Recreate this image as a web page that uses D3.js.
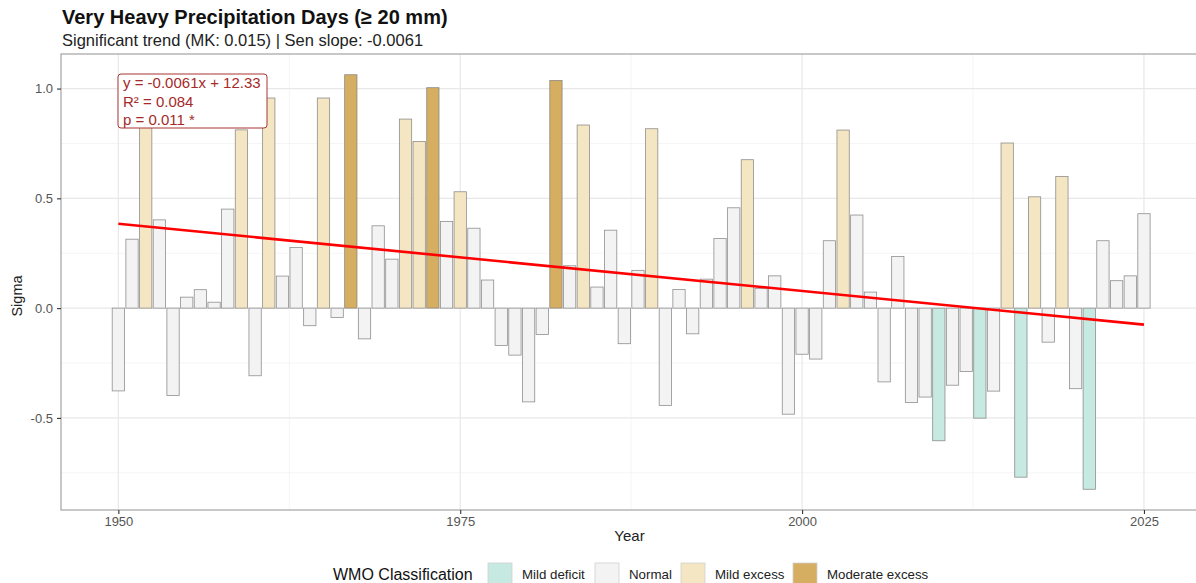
<!DOCTYPE html>
<html>
<head>
<meta charset="utf-8">
<script src="https://cdn.jsdelivr.net/npm/d3@7"></script>
<style>
  html, body { margin: 0; padding: 0; background: #fff; }
  svg { display: block; font-family: "Liberation Sans", Arial, sans-serif; }
</style>
</head>
<body>
<svg id="chart" width="1196" height="583"></svg>
<script>
// Annual sigma anomalies of very heavy precipitation days (>= 20 mm), 1950-2025
const years = d3.range(1950, 2026);
const sigma = [
  -0.377, 0.314, 0.880, 0.402, -0.398, 0.050, 0.084, 0.027, 0.451, 0.812,
  -0.308, 0.957, 0.146, 0.276, -0.080, 0.957, -0.043, 1.063, -0.140, 0.375,
  0.223, 0.861, 0.759, 1.004, 0.395, 0.530, 0.364, 0.128, -0.170, -0.214,
  -0.427, -0.120, 1.037, 0.193, 0.834, 0.096, 0.355, -0.162, 0.172, 0.817,
  -0.443, 0.085, -0.117, 0.132, 0.317, 0.457, 0.676, 0.090, 0.147, -0.483,
  -0.210, -0.232, 0.307, 0.811, 0.424, 0.073, -0.336, 0.235, -0.430, -0.405,
  -0.604, -0.351, -0.289, -0.501, -0.378, 0.752, -0.770, 0.507, -0.155, 0.600,
  -0.367, -0.825, 0.307, 0.125, 0.147, 0.430
];
// WMO class per year: D = mild deficit, N = normal, E = mild excess, M = moderate excess
const wmoClass = [
  "N","N","E","N","N","N","N","N","N","E",
  "N","E","N","N","N","E","N","M","N","N",
  "N","E","E","M","N","E","N","N","N","N",
  "N","N","M","N","E","N","N","N","N","E",
  "N","N","N","N","N","N","E","N","N","N",
  "N","N","N","E","N","N","N","N","N","N",
  "D","N","N","D","N","E","D","E","N","E",
  "N","D","N","N","N","N"
];
const classCodes = ["D", "N", "E", "M"];
const classNames = ["Mild deficit", "Normal", "Mild excess", "Moderate excess"];
const classFills = ["#c6e9e1", "#f3f3f3", "#f5e6c3", "#d5ae62"];

// Linear trend fit and test statistics
const trendSlope = -0.006126;
const trendIntercept = 12.33;
const rSquared = 0.084;
const pValue = 0.011;
const mkP = 0.015;
const senSlope = -0.0061;

const xTicks = [1950, 1975, 2000, 2025];
const xMinor = [1962.5, 1987.5, 2012.5];
const yTicks = [-0.5, 0.0, 0.5, 1.0];
const yMinor = [-0.75, -0.25, 0.25, 0.75];

const data = years.map((yr, i) => ({ year: yr, value: sigma[i], cls: wmoClass[i] }));

const svg = d3.select("#chart");
const W = 1196, H = 583;
const panel = { left: 61, top: 54, bottom: 510, right: 1202 };

// ggplot-style 5% expansion around the bars
const barFrac = 0.9;
const xLo = d3.min(years) - barFrac / 2, xHi = d3.max(years) + barFrac / 2;
const xPad = (xHi - xLo) * 0.05;
const x = d3.scaleLinear().domain([xLo - xPad, xHi + xPad]).range([60.3, panel.right]);
const yLo = d3.min(sigma), yHi = d3.max(sigma);
const yPad = (yHi - yLo) * 0.05;
const y = d3.scaleLinear().domain([yLo - yPad, yHi + yPad]).range([panel.bottom, panel.top]);
const fill = d3.scaleOrdinal().domain(classCodes).range(classFills);

const defs = svg.append("defs");
defs.append("clipPath").attr("id", "panelClip")
  .append("rect")
  .attr("x", panel.left).attr("y", panel.top)
  .attr("width", panel.right - panel.left).attr("height", panel.bottom - panel.top);

// Grid
const grid = svg.append("g").attr("clip-path", "url(#panelClip)");
grid.selectAll(".hminor").data(yMinor).join("line")
  .attr("x1", panel.left).attr("x2", panel.right)
  .attr("y1", d => y(d)).attr("y2", d => y(d))
  .attr("stroke", "#f2f2f2").attr("stroke-width", 0.8);
grid.selectAll(".vminor").data(xMinor).join("line")
  .attr("y1", panel.top).attr("y2", panel.bottom)
  .attr("x1", d => x(d)).attr("x2", d => x(d))
  .attr("stroke", "#f2f2f2").attr("stroke-width", 0.8);
grid.selectAll(".hmajor").data(yTicks).join("line")
  .attr("x1", panel.left).attr("x2", panel.right)
  .attr("y1", d => y(d)).attr("y2", d => y(d))
  .attr("stroke", "#e8e8e8").attr("stroke-width", 1.2);
grid.selectAll(".vmajor").data(xTicks).join("line")
  .attr("y1", panel.top).attr("y2", panel.bottom)
  .attr("x1", d => x(d)).attr("x2", d => x(d))
  .attr("stroke", "#e8e8e8").attr("stroke-width", 1.2);

// Bars
const step = x(1951) - x(1950);
const bw = step * barFrac;
const plot = svg.append("g").attr("clip-path", "url(#panelClip)");
plot.selectAll("rect.bar").data(data).join("rect")
  .attr("class", "bar")
  .attr("x", d => x(d.year) - bw / 2)
  .attr("width", bw)
  .attr("y", d => y(Math.max(0, d.value)))
  .attr("height", d => Math.abs(y(d.value) - y(0)))
  .attr("fill", d => fill(d.cls))
  .attr("stroke", "#7d7d7d")
  .attr("stroke-opacity", 0.85)
  .attr("stroke-width", 0.8);

// Trend line
const trendYears = [d3.min(years), d3.max(years)];
plot.append("path")
  .datum(trendYears.map(t => ({ t, v: trendSlope * t + trendIntercept })))
  .attr("fill", "none")
  .attr("stroke", "#ff0000")
  .attr("stroke-width", 2.6)
  .attr("d", d3.line().x(d => x(d.t)).y(d => y(d.v)));

// Panel border
svg.append("rect")
  .attr("x", panel.left).attr("y", panel.top)
  .attr("width", panel.right - panel.left).attr("height", panel.bottom - panel.top)
  .attr("fill", "none").attr("stroke", "#a3a3a3").attr("stroke-width", 1.2);

// Axes
const xAxis = svg.append("g").attr("transform", `translate(0,${panel.bottom})`)
  .call(d3.axisBottom(x).tickValues(xTicks).tickFormat(d3.format("d")).tickSize(4).tickPadding(3));
const yAxis = svg.append("g").attr("transform", `translate(${panel.left},0)`)
  .call(d3.axisLeft(y).tickValues(yTicks).tickFormat(d3.format(".1f")).tickSize(4).tickPadding(4));
[xAxis, yAxis].forEach(g => {
  g.select(".domain").remove();
  g.selectAll(".tick line").attr("stroke", "#333").attr("stroke-width", 1.1);
  g.selectAll(".tick text").attr("fill", "#555").style("font-size", "13px")
    .style("font-family", "'Liberation Sans', Arial, sans-serif");
});
yAxis.selectAll(".tick text").text(d => d3.format(".1f")(d).replace("−", "-"));

// Axis titles
svg.append("text").attr("x", (panel.left + W) / 2 + 1).attr("y", 541)
  .attr("text-anchor", "middle").attr("fill", "#222").style("font-size", "15px").text("Year");
svg.append("text").attr("transform", `translate(22,${(panel.top + panel.bottom) / 2 + 14}) rotate(-90)`)
  .attr("text-anchor", "middle").attr("fill", "#222").style("font-size", "14.5px").text("Sigma");

// Title and subtitle
svg.append("text").attr("x", 62).attr("y", 24)
  .attr("fill", "#111").style("font-size", "20px").style("font-weight", "bold")
  .text("Very Heavy Precipitation Days (≥ 20 mm)");
svg.append("text").attr("x", 62).attr("y", 46)
  .attr("fill", "#222").style("font-size", "16.5px")
  .text(`Significant trend (MK: ${mkP.toFixed(3)}) | Sen slope: ${senSlope.toFixed(4)}`);

// Regression annotation
const ann = svg.append("g").attr("transform", "translate(118,74)");
ann.append("rect").attr("width", 149).attr("height", 54).attr("rx", 3)
  .attr("fill", "#fff").attr("stroke", "#a83232").attr("stroke-width", 1);
const annLines = [
  `y = ${trendSlope.toFixed(4)}x + ${trendIntercept.toFixed(2)}`,
  `R² = ${rSquared.toFixed(3)}`,
  `p = ${pValue.toFixed(3)} *`
];
ann.selectAll("text").data(annLines).join("text")
  .attr("x", 5).attr("y", (d, i) => 14 + i * 18.5)
  .attr("fill", "#a52a2a").style("font-size", "15px").text(d => d);

// Legend
const leg = svg.append("g");
leg.append("text").attr("x", 333).attr("y", 580).attr("fill", "#111")
  .style("font-size", "16px").text("WMO Classification");
const swX = [488, 595, 681, 793];
classCodes.forEach((c, i) => {
  leg.append("rect").attr("x", swX[i]).attr("y", 563).attr("width", 24).attr("height", 24)
    .attr("fill", fill(c)).attr("stroke", "#d0d0d0").attr("stroke-width", 0.8);
  leg.append("text").attr("x", swX[i] + 34).attr("y", 579).attr("fill", "#222")
    .style("font-size", "13.3px").text(classNames[i]);
});
</script>
</body>
</html>
